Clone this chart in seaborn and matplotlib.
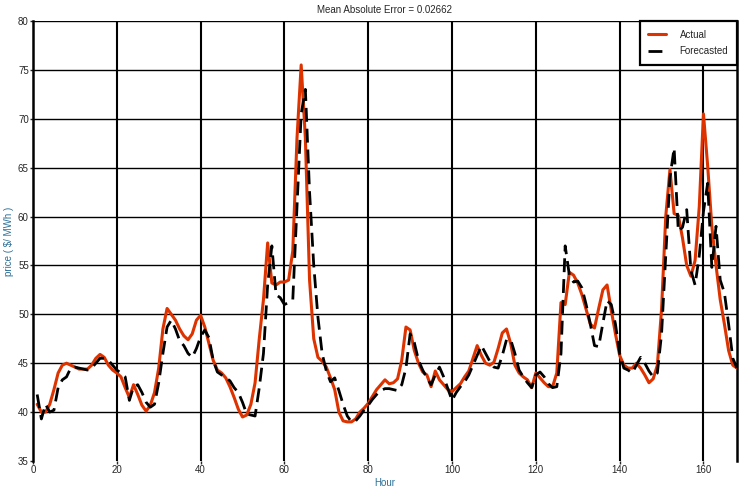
import numpy as np
import pandas as pd
import matplotlib
matplotlib.use("Agg")
import matplotlib.pyplot as plt
import seaborn as sns

# hourly prices, hours 1..168
hours = list(range(1, 169))

actual = [
    40.8, 40.0, 40.0, 40.8, 42.3, 44.0, 44.8, 45.0, 44.8, 44.6,
    44.4, 44.4, 44.4, 44.8, 45.5, 45.9, 45.6, 44.8, 44.3, 44.0,
    43.6, 42.5, 41.5, 42.8, 41.8, 40.7, 40.1, 40.7, 42.0, 44.5,
    48.5, 50.6, 50.0, 49.4, 48.5, 47.8, 47.4, 48.0, 49.4, 49.9,
    48.7, 47.0, 45.3, 44.3, 44.0, 43.5, 42.6, 41.5, 40.3, 39.5,
    39.7, 40.8, 43.0, 47.5, 51.5, 57.3, 53.2, 53.0, 53.3, 53.3,
    53.5, 56.5, 68.0, 75.5, 68.0, 53.5, 47.5, 45.6, 45.2, 44.6,
    43.5, 42.3, 40.0, 39.1, 39.0, 39.0, 39.3, 40.0, 40.4, 40.9,
    41.6, 42.3, 42.8, 43.3, 42.9, 43.0, 43.4, 45.3, 48.7, 48.4,
    46.3, 45.0, 44.1, 43.8, 42.6, 44.2, 43.3, 42.8, 42.3, 42.1,
    42.5, 42.9, 43.6, 44.2, 45.5, 46.8, 45.8, 45.0, 44.8, 45.1,
    46.5, 48.1, 48.5, 47.0, 44.8, 44.0, 43.6, 43.3, 42.5, 44.0,
    43.5, 43.0, 42.6, 42.6, 44.0, 51.2, 51.0, 54.3, 54.0, 53.2,
    52.0, 50.5, 49.0, 48.6, 50.6, 52.5, 53.0, 50.4, 48.0, 45.8,
    44.8, 44.5, 44.5, 45.0, 44.5, 43.8, 43.0, 43.4, 44.8, 50.5,
    60.0, 64.8, 60.3, 60.1, 57.8, 55.0, 53.9, 55.5, 61.0, 70.5,
    65.2, 59.0, 55.0, 51.5, 49.0, 46.3, 44.8, 44.5,
]

forecasted = [
    41.8, 39.3, 40.8, 40.0, 40.2, 42.5, 43.3, 43.6, 44.5, 44.6,
    44.5, 44.4, 44.3, 44.5, 45.0, 45.5, 45.5, 45.3, 44.8, 44.3,
    44.0, 43.6, 41.2, 42.6, 42.8, 42.0, 41.0, 40.5, 40.8, 43.0,
    46.0, 48.7, 49.4, 48.5, 47.3, 46.8, 46.0, 45.6, 46.5, 47.7,
    48.4, 47.6, 45.3, 44.1, 43.8, 43.5, 43.2, 42.5, 42.0, 41.0,
    39.8, 39.7, 39.6, 42.5, 46.0, 53.0, 57.0, 52.0, 51.7, 51.0,
    51.2, 51.5, 61.0, 70.5, 73.0, 62.5, 55.0, 49.7, 46.0, 44.2,
    43.1, 43.5, 42.2, 40.8, 39.6, 39.0, 39.1, 39.6, 40.2, 40.7,
    41.3, 41.8, 42.2, 42.4, 42.4, 42.3, 42.2, 42.8, 44.5, 48.0,
    47.1, 45.3, 44.3, 43.5, 42.8, 43.8, 44.6, 43.6, 42.4, 41.2,
    42.0, 42.6, 43.1, 43.8, 44.8, 45.8, 46.8, 46.0, 45.2, 44.6,
    44.5, 45.8, 47.4, 47.4, 46.0, 44.3, 43.6, 43.0, 42.5, 43.8,
    44.1, 43.6, 42.9, 42.5, 42.6, 46.0, 57.0, 54.0, 53.3, 53.4,
    52.7, 51.0, 49.0, 46.8, 46.7, 49.1, 51.4, 51.0, 49.0, 46.0,
    44.5, 44.3, 44.0, 44.8, 45.6, 45.0, 44.2, 43.6, 44.0, 48.0,
    56.0, 64.0, 67.0, 58.5, 58.9, 60.7, 54.5, 53.0, 56.0, 60.5,
    63.4, 54.8, 59.0, 53.5, 52.2, 49.0, 45.5, 44.5,
]

x_ticks = [0, 20, 40, 60, 80, 100, 120, 140, 160]
y_ticks = [35, 40, 45, 50, 55, 60, 65, 70, 75, 80]

df = pd.DataFrame({"Hour": hours, "Actual": actual, "Forecasted": forecasted})

sns.set_style("white")
plt.rcParams["font.family"] = ["Liberation Sans", "DejaVu Sans"]

fig = plt.figure(figsize=(7.43, 4.95), dpi=100)
ax = fig.add_axes([0.0444, 0.0687, 0.9475, 0.889])

# grid drawn by hand: thick verticals, thinner horizontals, none at y=35
for xv in x_ticks[1:]:
    ax.axvline(xv, color="black", lw=1.5, zorder=1)
for yv in y_ticks[1:]:
    ax.axhline(yv, color="black", lw=1.0, zorder=1)

sns.lineplot(data=df, x="Hour", y="Actual", ax=ax, color="#dd3300",
             lw=2.2, label="Actual", zorder=3)
sns.lineplot(data=df, x="Hour", y="Forecasted", ax=ax, color="black",
             lw=2.0, label="Forecasted", zorder=4)
ax.lines[-1].set_dashes((5, 2.5))

ax.set_xlim(0, 168)
ax.set_ylim(35, 80)
ax.set_xticks(x_ticks)
ax.set_yticks(y_ticks)
ax.tick_params(labelsize=7, length=2, pad=1, width=1, direction="out",
               left=True, bottom=True)

for side in ["left", "right"]:
    ax.spines[side].set_linewidth(1.8)
    ax.spines[side].set_color("black")
ax.spines["top"].set_visible(False)
ax.spines["bottom"].set_visible(False)

ax.set_title("Mean Absolute Error = 0.02662", fontsize=7, pad=6)
ax.set_xlabel("Hour", fontsize=7, color="#2a6f97", labelpad=2)
ax.set_ylabel("price ( $/ MWh )", fontsize=7, color="#2a6f97", labelpad=3)

leg = ax.legend(loc="upper right", fontsize=7, frameon=True, fancybox=False,
                borderaxespad=0.0, handlelength=1.8, framealpha=1,
                borderpad=0.9, labelspacing=0.7, handletextpad=1.4)
leg.get_frame().set_edgecolor("black")
leg.get_frame().set_linewidth(1.6)
leg.get_lines()[1].set_dashes((5, 2.5))

fig.savefig("out.png", dpi=100)
